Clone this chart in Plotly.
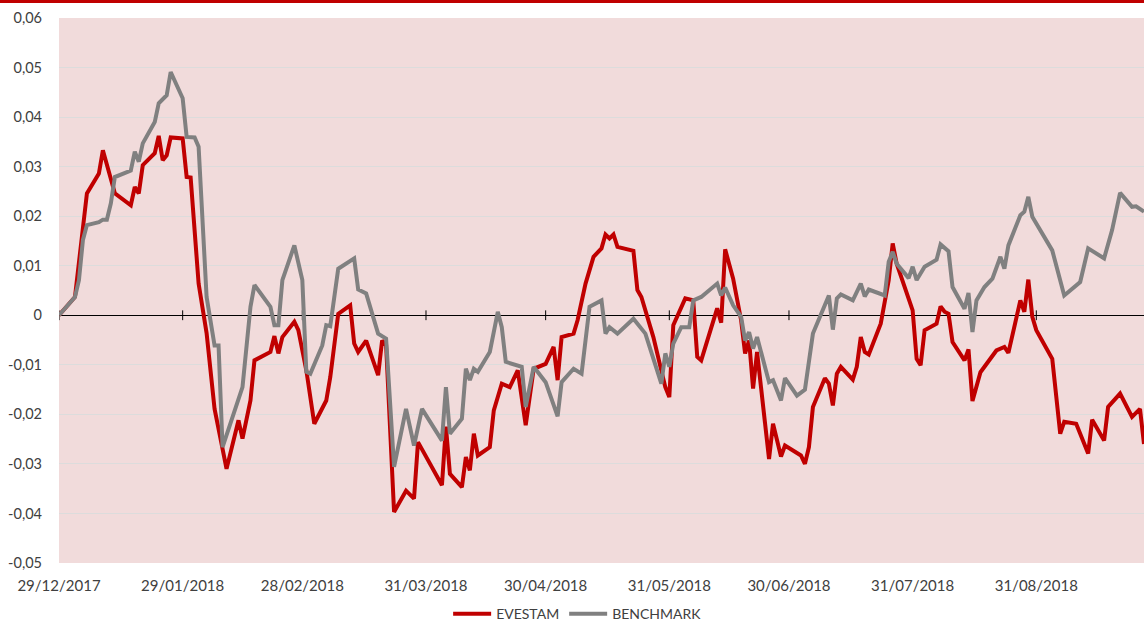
import plotly.graph_objects as go

# EVESTAM series (date, cumulative relative performance)
evestam_dates = [
    "2017-12-29", "2018-01-02", "2018-01-05", "2018-01-08", "2018-01-09", "2018-01-12",
    "2018-01-16", "2018-01-17", "2018-01-18", "2018-01-19", "2018-01-22", "2018-01-23",
    "2018-01-24", "2018-01-25", "2018-01-26", "2018-01-29", "2018-01-30", "2018-01-31",
    "2018-02-02", "2018-02-04", "2018-02-06", "2018-02-08", "2018-02-09", "2018-02-12",
    "2018-02-13", "2018-02-15", "2018-02-16", "2018-02-20", "2018-02-21", "2018-02-22",
    "2018-02-23", "2018-02-26", "2018-02-27", "2018-03-01", "2018-03-03", "2018-03-06",
    "2018-03-07", "2018-03-09", "2018-03-12", "2018-03-13", "2018-03-14", "2018-03-16",
    "2018-03-19", "2018-03-20", "2018-03-21", "2018-03-23", "2018-03-26", "2018-03-28",
    "2018-03-29", "2018-04-04", "2018-04-05", "2018-04-06", "2018-04-09", "2018-04-10",
    "2018-04-11", "2018-04-12", "2018-04-13", "2018-04-16", "2018-04-17", "2018-04-19",
    "2018-04-21", "2018-04-23", "2018-04-25", "2018-04-27", "2018-04-30", "2018-05-02",
    "2018-05-03", "2018-05-04", "2018-05-07", "2018-05-08", "2018-05-10", "2018-05-12",
    "2018-05-14", "2018-05-15", "2018-05-16", "2018-05-17", "2018-05-18", "2018-05-22",
    "2018-05-23", "2018-05-24", "2018-05-27", "2018-05-30", "2018-05-31", "2018-06-01",
    "2018-06-04", "2018-06-06", "2018-06-07", "2018-06-08", "2018-06-12", "2018-06-13",
    "2018-06-14", "2018-06-16", "2018-06-17", "2018-06-18", "2018-06-19", "2018-06-20",
    "2018-06-21", "2018-06-22", "2018-06-25", "2018-06-26", "2018-06-28", "2018-06-29",
    "2018-07-03", "2018-07-04", "2018-07-05", "2018-07-06", "2018-07-09", "2018-07-10",
    "2018-07-11", "2018-07-12", "2018-07-13", "2018-07-16", "2018-07-17", "2018-07-18",
    "2018-07-19", "2018-07-20", "2018-07-23", "2018-07-25", "2018-07-26", "2018-07-27",
    "2018-07-31", "2018-08-01", "2018-08-02", "2018-08-03", "2018-08-06", "2018-08-07",
    "2018-08-08", "2018-08-09", "2018-08-10", "2018-08-13", "2018-08-14", "2018-08-15",
    "2018-08-17", "2018-08-21", "2018-08-23", "2018-08-24", "2018-08-27", "2018-08-28",
    "2018-08-29", "2018-08-30", "2018-08-31", "2018-09-04", "2018-09-06", "2018-09-07",
    "2018-09-10", "2018-09-13", "2018-09-14", "2018-09-17", "2018-09-18", "2018-09-21",
    "2018-09-24", "2018-09-26", "2018-09-27",
]
evestam_values = [
    0.0, 0.0037, 0.0246, 0.0286, 0.0333, 0.0246,
    0.0222, 0.0259, 0.0246, 0.0303, 0.0327, 0.0362,
    0.0313, 0.0323, 0.0359, 0.0357, 0.0279, 0.0278,
    0.0064, -0.0036, -0.0189, -0.0273, -0.0310, -0.0212,
    -0.0249, -0.0172, -0.0091, -0.0074, -0.0042, -0.0077,
    -0.0044, -0.0013, -0.0030, -0.0111, -0.0219, -0.0172,
    -0.0125, 0.0003, 0.0020, -0.0057, -0.0074, -0.0051,
    -0.0121, -0.0051, -0.0060, -0.0397, -0.0354, -0.0370,
    -0.0256, -0.0343, -0.0225, -0.0320, -0.0347, -0.0286,
    -0.0313, -0.0239, -0.0283, -0.0266, -0.0192, -0.0138,
    -0.0145, -0.0111, -0.0222, -0.0108, -0.0098, -0.0064,
    -0.0131, -0.0044, -0.0037, -0.0010, 0.0064, 0.0118,
    0.0135, 0.0163, 0.0155, 0.0163, 0.0138, 0.0130,
    0.0051, 0.0037, -0.0044, -0.0145, -0.0165, -0.0020,
    0.0034, 0.0030, -0.0084, -0.0091, 0.0014, -0.0015,
    0.0133, 0.0074, 0.0030, -0.0010, -0.0077, -0.0051,
    -0.0148, -0.0074, -0.0290, -0.0219, -0.0285, -0.0263,
    -0.0283, -0.0300, -0.0266, -0.0185, -0.0127, -0.0138,
    -0.0182, -0.0118, -0.0104, -0.0130, -0.0104, -0.0044,
    -0.0074, -0.0079, -0.0017, 0.0071, 0.0145, 0.0104,
    0.0010, -0.0088, -0.0101, -0.0030, -0.0017, 0.0018,
    0.0007, 0.0003, -0.0054, -0.0091, -0.0069, -0.0173,
    -0.0115, -0.0071, -0.0064, -0.0076, 0.0030, 0.0007,
    0.0072, -0.0003, -0.0030, -0.0088, -0.0239, -0.0215,
    -0.0219, -0.0279, -0.0211, -0.0253, -0.0185, -0.0158,
    -0.0205, -0.0189, -0.0260,
]

# BENCHMARK series
benchmark_dates = [
    "2017-12-29", "2018-01-02", "2018-01-03", "2018-01-04", "2018-01-05", "2018-01-08",
    "2018-01-09", "2018-01-10", "2018-01-11", "2018-01-12", "2018-01-16", "2018-01-17",
    "2018-01-18", "2018-01-19", "2018-01-22", "2018-01-23", "2018-01-25", "2018-01-26",
    "2018-01-29", "2018-01-30", "2018-02-01", "2018-02-02", "2018-02-04", "2018-02-06",
    "2018-02-07", "2018-02-08", "2018-02-13", "2018-02-15", "2018-02-16", "2018-02-20",
    "2018-02-21", "2018-02-22", "2018-02-23", "2018-02-26", "2018-02-28", "2018-03-01",
    "2018-03-02", "2018-03-05", "2018-03-06", "2018-03-07", "2018-03-09", "2018-03-13",
    "2018-03-14", "2018-03-16", "2018-03-19", "2018-03-21", "2018-03-23", "2018-03-26",
    "2018-03-28", "2018-03-30", "2018-04-04", "2018-04-05", "2018-04-06", "2018-04-09",
    "2018-04-10", "2018-04-11", "2018-04-12", "2018-04-13", "2018-04-16", "2018-04-18",
    "2018-04-19", "2018-04-20", "2018-04-24", "2018-04-25", "2018-04-27", "2018-04-30",
    "2018-05-03", "2018-05-04", "2018-05-07", "2018-05-09", "2018-05-11", "2018-05-14",
    "2018-05-15", "2018-05-16", "2018-05-18", "2018-05-22", "2018-05-25", "2018-05-29",
    "2018-05-30", "2018-05-31", "2018-06-01", "2018-06-03", "2018-06-05", "2018-06-06",
    "2018-06-08", "2018-06-12", "2018-06-13", "2018-06-14", "2018-06-16", "2018-06-18",
    "2018-06-19", "2018-06-20", "2018-06-21", "2018-06-22", "2018-06-25", "2018-06-26",
    "2018-06-28", "2018-06-29", "2018-07-02", "2018-07-04", "2018-07-06", "2018-07-10",
    "2018-07-11", "2018-07-12", "2018-07-13", "2018-07-16", "2018-07-18", "2018-07-19",
    "2018-07-20", "2018-07-24", "2018-07-25", "2018-07-26", "2018-07-27", "2018-07-30",
    "2018-07-31", "2018-08-01", "2018-08-03", "2018-08-06", "2018-08-07", "2018-08-09",
    "2018-08-10", "2018-08-13", "2018-08-14", "2018-08-15", "2018-08-16", "2018-08-18",
    "2018-08-20", "2018-08-22", "2018-08-23", "2018-08-24", "2018-08-27", "2018-08-28",
    "2018-08-29", "2018-08-30", "2018-09-04", "2018-09-07", "2018-09-11", "2018-09-13",
    "2018-09-17", "2018-09-19", "2018-09-21", "2018-09-24", "2018-09-25", "2018-09-27",
]
benchmark_values = [
    0.0, 0.0037, 0.0071, 0.0152, 0.0182, 0.0188,
    0.0193, 0.0193, 0.0226, 0.0279, 0.0292, 0.0330,
    0.0310, 0.0347, 0.0390, 0.0428, 0.0444, 0.0491,
    0.0438, 0.0360, 0.0359, 0.0340, 0.0037, -0.0061,
    -0.0061, -0.0266, -0.0145, 0.0017, 0.0061, 0.0017,
    -0.0020, -0.0020, 0.0071, 0.0141, 0.0071, -0.0114,
    -0.0118, -0.0061, -0.0020, -0.0022, 0.0094, 0.0115,
    0.0052, 0.0044, -0.0037, -0.0047, -0.0306, -0.0189,
    -0.0263, -0.0189, -0.0253, -0.0145, -0.0239, -0.0209,
    -0.0108, -0.0131, -0.0108, -0.0114, -0.0074, 0.0007,
    -0.0024, -0.0094, -0.0104, -0.0185, -0.0104, -0.0135,
    -0.0204, -0.0135, -0.0108, -0.0118, 0.0017, 0.0030,
    -0.0037, -0.0024, -0.0037, -0.0007, -0.0037, -0.0138,
    -0.0077, -0.0104, -0.0057, -0.0024, -0.0024, 0.0030,
    0.0037, 0.0064, 0.0040, 0.0056, 0.0020, -0.0003,
    -0.0051, -0.0034, -0.0067, -0.0044, -0.0135, -0.0131,
    -0.0172, -0.0127, -0.0162, -0.0150, -0.0037, 0.0040,
    -0.0029, 0.0034, 0.0042, 0.0030, 0.0064, 0.0038,
    0.0052, 0.0040, 0.0108, 0.0128, 0.0104, 0.0075,
    0.0098, 0.0071, 0.0098, 0.0112, 0.0143, 0.0129,
    0.0057, 0.0013, 0.0045, -0.0034, 0.0030, 0.0057,
    0.0074, 0.0118, 0.0094, 0.0141, 0.0202, 0.0209,
    0.0239, 0.0199, 0.0131, 0.0040, 0.0067, 0.0135,
    0.0115, 0.0172, 0.0247, 0.0219, 0.0220, 0.0209,
]

tick_dates = ["2017-12-29", "2018-01-29", "2018-02-28", "2018-03-31", "2018-04-30",
              "2018-05-31", "2018-06-30", "2018-07-31", "2018-08-31"]
tick_labels = ["29/12/2017", "29/01/2018", "28/02/2018", "31/03/2018", "30/04/2018",
               "31/05/2018", "30/06/2018", "31/07/2018", "31/08/2018"]
y_ticks = [0.06, 0.05, 0.04, 0.03, 0.02, 0.01, 0, -0.01, -0.02, -0.03, -0.04, -0.05]
y_labels = ["0,06", "0,05", "0,04", "0,03", "0,02", "0,01", "0",
            "-0,01", "-0,02", "-0,03", "-0,04", "-0,05"]

RED = "#c00000"
GREY = "#808080"
FONT = "Lato"

fig = go.Figure()

# small tick marks on the zero line
fig.add_trace(go.Scatter(
    x=tick_dates, y=[0] * len(tick_dates), mode="markers",
    marker=dict(symbol="line-ns-open", size=7, color="black",
                line=dict(color="black", width=1)),
    showlegend=False, hoverinfo="skip",
))

fig.add_trace(go.Scatter(
    x=evestam_dates, y=evestam_values, mode="lines", name="EVESTAM",
    line=dict(color=RED, width=4),
))
fig.add_trace(go.Scatter(
    x=benchmark_dates, y=benchmark_values, mode="lines", name="BENCHMARK",
    line=dict(color=GREY, width=4),
))

W, H = 1144, 621
L, R, T, B = 59, 0, 18, 58
plot_h = H - T - B
plot_w = W - L - R

fig.update_layout(
    width=W, height=H,
    margin=dict(l=L, r=R, t=T, b=B, pad=0, autoexpand=False),
    paper_bgcolor="white",
    plot_bgcolor="#f1dbdb",
    font=dict(family=FONT, size=14.5, color="#404040"),
    showlegend=True,
    legend=dict(
        orientation="h", x=0.478, xanchor="center", y=-0.094, yanchor="middle",
        font=dict(size=14, color="#404040"), itemwidth=38, tracegroupgap=0,
        bgcolor="rgba(0,0,0,0)",
    ),
    xaxis=dict(
        type="date",
        range=["2017-12-29", "2018-09-27"],
        tickvals=tick_dates, ticktext=tick_labels,
        tickfont=dict(size=15),
        showgrid=False, zeroline=False, showline=False,
        ticks="", ticklabelstandoff=12, automargin=False,
        fixedrange=True,
    ),
    yaxis=dict(
        range=[-0.05, 0.06],
        tickvals=y_ticks, ticktext=y_labels,
        showgrid=True, gridcolor="#dcdcdc", gridwidth=1,
        zeroline=True, zerolinecolor="black", zerolinewidth=1.2,
        showline=False, ticks="", ticklabelstandoff=16, automargin=False,
        fixedrange=True,
    ),
    shapes=[
        dict(type="rect", xref="paper", yref="paper",
             x0=-L / plot_w, x1=1 + R / plot_w + 0.01,
             y0=1 + (T - 3) / plot_h, y1=1 + (T + 2) / plot_h,
             fillcolor=RED, line=dict(width=0), layer="above"),
    ],
)

fig.write_html(
    "out.html",
    config={"displayModeBar": False},
    post_script="document.body.style.margin='0';document.body.style.overflow='hidden';",
)
